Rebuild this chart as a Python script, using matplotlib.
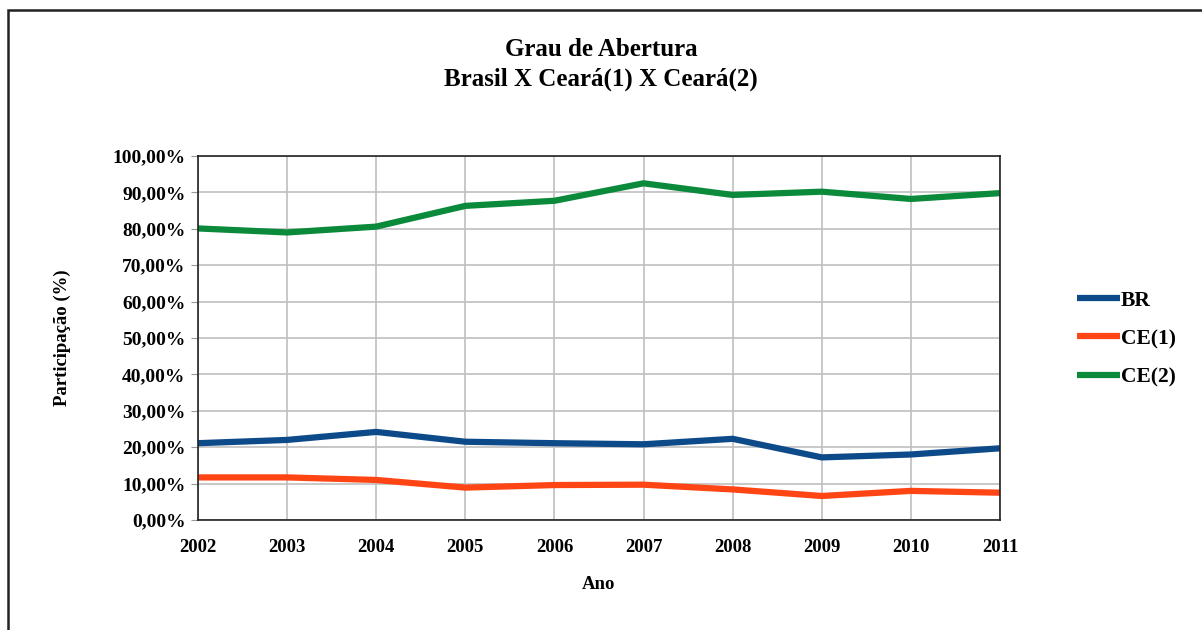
import numpy as np
import matplotlib.pyplot as plt
from matplotlib.patches import Rectangle
from matplotlib.ticker import FuncFormatter

anos = [2002, 2003, 2004, 2005, 2006, 2007, 2008, 2009, 2010, 2011]
br = [21.1, 22.0, 24.2, 21.5, 21.1, 20.8, 22.3, 17.2, 18.0, 19.7]
ce1 = [11.7, 11.7, 11.0, 8.9, 9.6, 9.7, 8.4, 6.6, 8.0, 7.5]
ce2 = [80.1, 79.0, 80.6, 86.3, 87.7, 92.5, 89.3, 90.2, 88.2, 89.8]

plt.rcParams['font.family'] = ['Liberation Serif', 'DejaVu Serif']
plt.rcParams['font.weight'] = 'bold'

fig = plt.figure(figsize=(12.02, 6.3), dpi=100)
ax = fig.add_axes([198 / 1202, 110 / 630, 802 / 1202, 364 / 630])

# moldura externa (só esquerda e topo aparecem)
fig.patches.append(Rectangle((8 / 1202, -0.1), 1.2, (630 - 10) / 630 + 0.1,
                             transform=fig.transFigure, fill=False,
                             edgecolor='#222222', linewidth=1.8))

ax.plot(anos, br, color='#0D4A8A', linewidth=4.5, label='BR', solid_capstyle='butt')
ax.plot(anos, ce1, color='#FF4514', linewidth=4.5, label='CE(1)', solid_capstyle='butt')
ax.plot(anos, ce2, color='#0A8A3A', linewidth=4.5, label='CE(2)', solid_capstyle='butt')

ax.set_xlim(2002, 2011)
ax.set_ylim(0, 100)
ax.set_xticks(anos)
ax.set_yticks(np.arange(0, 101, 10))
ax.yaxis.set_major_formatter(FuncFormatter(lambda v, p: f'{v:.2f}'.replace('.', ',') + '%'))
ax.grid(True, color='#BFBFBF', linewidth=1.2)
ax.set_axisbelow(True)
for s in ax.spines.values():
    s.set_color('#222222')
    s.set_linewidth(1.2)
ax.tick_params(axis='y', length=5, color='#999999', labelsize=14, pad=4)
ax.tick_params(axis='x', length=0, labelsize=13.5, pad=14)

ax.set_ylabel('Participação (%)', fontsize=13.5, fontweight='bold', labelpad=30)
ax.set_xlabel('Ano', fontsize=13.5, fontweight='bold', labelpad=14)

fig.text(0.5, 1 - 49 / 630, 'Grau de Abertura', ha='center', va='center',
         fontsize=18, fontweight='bold')
fig.text(0.5, 1 - 79 / 630, 'Brasil X Ceará(1) X Ceará(2)', ha='center', va='center',
         fontsize=18, fontweight='bold')

fig.legend(loc='center left', bbox_to_anchor=(1068 / 1202, 1 - 339 / 630),
           frameon=False, fontsize=15.5, handlelength=2.0, handletextpad=0.05,
           labelspacing=0.85, borderaxespad=0)

fig.savefig('out.png', dpi=100)
